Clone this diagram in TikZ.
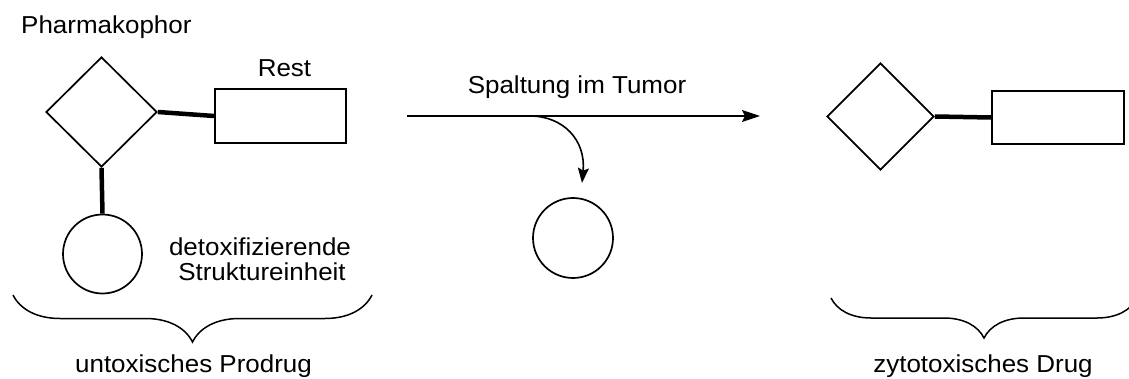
\documentclass[tikz,border=0pt]{standalone}
\usepackage{fontspec}
\setmainfont{Liberation Sans}[FakeStretch=1.06]
\usetikzlibrary{shapes.geometric,arrows.meta,decorations.pathreplacing}
\begin{document}
\begin{tikzpicture}[x=1pt,y=-1pt,
  every node/.style={font=\fontsize{24.5pt}{25pt}\selectfont},
  pharma/.style={draw,shape=diamond,inner sep=0pt,line width=1.7pt},
  restbox/.style={draw,rectangle,inner sep=0pt,line width=1.7pt},
  unit/.style={draw,circle,inner sep=0pt,line width=1.7pt},
  bond/.style={line width=4.5pt},
  label/.style={inner sep=0pt,anchor=base},
  curlybrace/.style={line width=1.5pt,decorate,decoration={brace,mirror,amplitude=#1}}
]
\useasboundingbox (0,0) rectangle (1129,379);
\clip (0,0) rectangle (1129,379);

% prodrug: pharmacophore, rest and detoxifying unit
\node[pharma,minimum width=111pt,minimum height=110pt] (d1) at (101.5,112) {};
\node[restbox,minimum width=131pt,minimum height=54pt] (r1) at (280.5,116) {};
\node[unit,minimum size=79pt] (c1) at (102.5,254) {};
\draw[bond] (d1.east) -- (r1.west);
\draw[bond] (d1.south) -- (c1.north);

\node[label,anchor=base west] (t1) at (21,33.3) {Pharmakophor};
\node[label] (t2) at (284.5,76.7) {Rest};
\node[label] (t3) at (260,255) {detoxifizierende};
\node[label] (t4) at (262,280) {Struktureinheit};

% cleavage arrow
\coordinate (a0) at (407,116);
\coordinate (a1) at (760,116);
\coordinate (split) at (530,116);
\coordinate (drop) at (582,183);
\draw[line width=1.8pt,-{Stealth[length=18pt,width=12pt,inset=3pt]}] (a0) -- (a1);
\draw[line width=1.6pt,-{Stealth[length=15pt,width=11pt,inset=2.5pt]}]
  (split) .. controls (563,116) and (586,140) .. (drop);
\node[label] (t5) at (577,93.3) {Spaltung im Tumor};
\node[unit,minimum size=80pt] (c2) at (573,238) {};

% active drug
\node[pharma,minimum width=107pt,minimum height=107pt] (d2) at (880.5,116.5) {};
\node[restbox,minimum width=132pt,minimum height=53pt] (r2) at (1058,117.5) {};
\draw[bond] (d2.east) -- (r2.west);

% braces and captions
\coordinate (b1l) at (13,295);
\coordinate (b1r) at (372,295);
\coordinate (b2l) at (831,298);
\coordinate (b2r) at (1137,298);
\draw[curlybrace=47pt] (b1l) -- (b1r);
\draw[curlybrace=40pt] (b2l) -- (b2r);
\node[label] (t6) at (193.5,372) {untoxisches Prodrug};
\node[label] (t7) at (983,372) {zytotoxisches Drug};
\end{tikzpicture}
\end{document}
